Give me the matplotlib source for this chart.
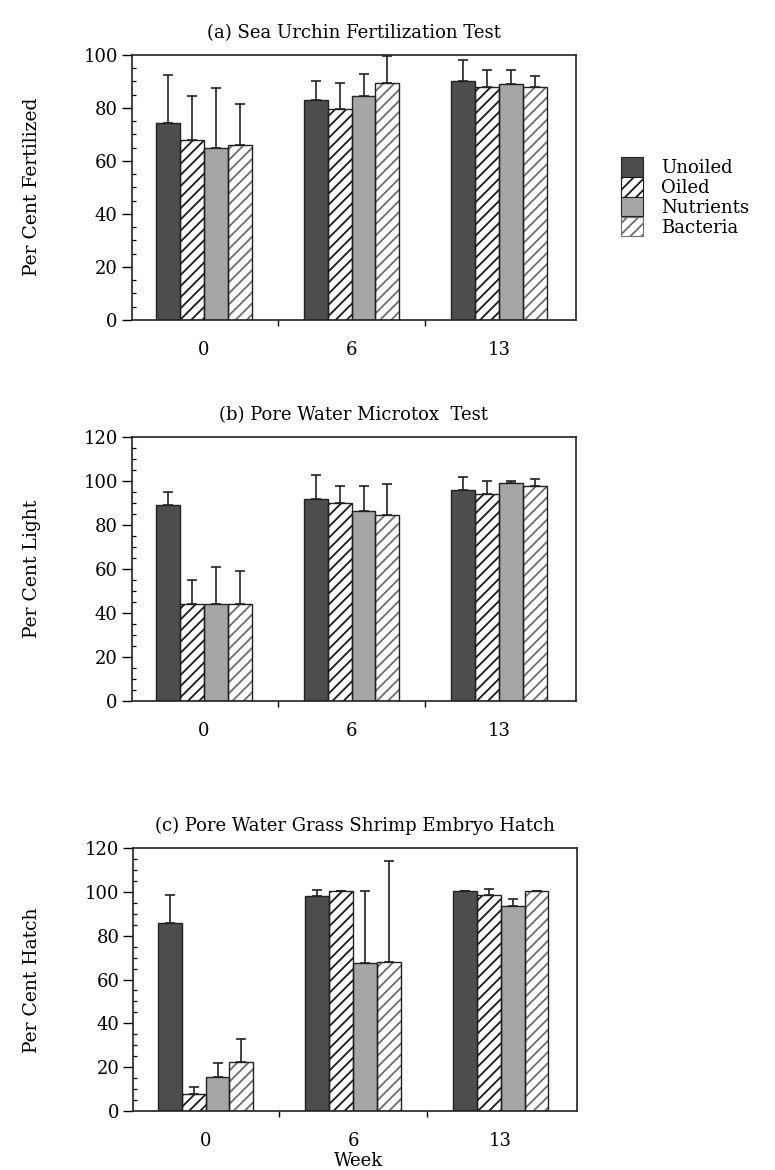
import numpy as np
import matplotlib
matplotlib.use("Agg")
import matplotlib.pyplot as plt
from matplotlib.patches import Patch
from matplotlib.ticker import MultipleLocator

plt.rcParams["font.family"] = ["DejaVu Serif"]
plt.rcParams["hatch.linewidth"] = 1.3

weeks = ["0", "6", "13"]
treatments = ["Unoiled", "Oiled", "Nutrients", "Bacteria"]

# (a) Sea urchin fertilization, per cent fertilized
a_unoiled = [74.5, 83, 90]
a_oiled = [68, 79.5, 88]
a_nutrients = [65, 84.5, 89]
a_bacteria = [66, 89.5, 88]
a_unoiled_err = [18, 7, 8]
a_oiled_err = [16.5, 10, 6.5]
a_nutrients_err = [22.5, 8.5, 5.5]
a_bacteria_err = [15.5, 10, 4]

# (b) Microtox, per cent light
b_unoiled = [89, 91.7, 96]
b_oiled = [44, 90.2, 94.3]
b_nutrients = [44, 86.4, 99.3]
b_bacteria = [44.3, 84.7, 97.6]
b_unoiled_err = [6, 11, 5.7]
b_oiled_err = [11.2, 7.6, 5.7]
b_nutrients_err = [17, 11.4, 0.5]
b_bacteria_err = [15, 14, 3.3]

# (c) Grass shrimp embryo hatch, per cent hatch
c_unoiled = [85.7, 98.2, 100.5]
c_oiled = [7.8, 100.2, 98.7]
c_nutrients = [15.7, 67.5, 93.4]
c_bacteria = [22.5, 68.2, 100.5]
c_unoiled_err = [12.8, 2.5, 0]
c_oiled_err = [3, 0, 2.6]
c_nutrients_err = [6.4, 33, 3.3]
c_bacteria_err = [10.2, 45.7, 0]

# face colour, hatch, hatch colour for each treatment
styles = [
    ("#4d4d4d", "", "#4d4d4d"),
    ("#ffffff", "///", "#1a1a1a"),
    ("#a6a6a6", "", "#a6a6a6"),
    ("#ffffff", "///", "#6e6e6e"),
]

panels = [
    ("(a) Sea Urchin Fertilization Test", "Per Cent Fertilized", 100,
     [a_unoiled, a_oiled, a_nutrients, a_bacteria],
     [a_unoiled_err, a_oiled_err, a_nutrients_err, a_bacteria_err]),
    ("(b) Pore Water Microtox  Test", "Per Cent Light", 120,
     [b_unoiled, b_oiled, b_nutrients, b_bacteria],
     [b_unoiled_err, b_oiled_err, b_nutrients_err, b_bacteria_err]),
    ("(c) Pore Water Grass Shrimp Embryo Hatch", "Per Cent Hatch", 120,
     [c_unoiled, c_oiled, c_nutrients, c_bacteria],
     [c_unoiled_err, c_oiled_err, c_nutrients_err, c_bacteria_err]),
]

# axes boxes in figure fraction (left, bottom, width, height)
boxes = [
    (0.170, 0.7265, 0.573, 0.2265),
    (0.170, 0.4009, 0.573, 0.2256),
    (0.172, 0.0504, 0.573, 0.2248),
]
ylabel_y = [1 - 187 / 1170, 1 - 569 / 1170, 1 - 980 / 1170]

fig = plt.figure(figsize=(7.75, 11.7), dpi=100)
x = np.arange(len(weeks))
w = 0.162

for (title, ylab, ymax, vals, errs), box, ly in zip(panels, boxes, ylabel_y):
    ax = fig.add_axes(box)
    for i, (v, e) in enumerate(zip(vals, errs)):
        fc, hatch, hc = styles[i]
        pos = x + (i - 1.5) * w
        ax.bar(pos, v, w, color=fc, hatch=hatch, edgecolor=hc, linewidth=0, zorder=2)
        ax.bar(pos, v, w, fill=False, edgecolor="#222222", linewidth=1.0, zorder=3)
        ax.errorbar(pos, v, yerr=[np.zeros(len(e)), e], fmt="none", ecolor="#222222",
                    elinewidth=1.2, capsize=3.6, capthick=1.2, zorder=4)
    ax.set_xlim(-0.49, 2.52)
    ax.set_ylim(0, ymax)
    ax.set_xticks(x)
    ax.set_xticklabels(weeks, fontsize=13)
    ax.set_xticks([0.5, 1.5], minor=True)
    ax.tick_params(axis="x", which="major", length=0, pad=15)
    ax.tick_params(axis="x", which="minor", direction="out", length=4, width=1.0)
    ax.yaxis.set_major_locator(MultipleLocator(20))
    ax.yaxis.set_minor_locator(MultipleLocator(5))
    ax.tick_params(axis="y", which="major", direction="out", length=7, width=1.0,
                   labelsize=13, pad=3)
    ax.tick_params(axis="y", which="minor", direction="in", length=3, width=0.9)
    for s in ax.spines.values():
        s.set_linewidth(1.2)
        s.set_color("#222222")
    ax.set_title(title, fontsize=13, pad=12)
    fig.text(32 / 775, ly, ylab, rotation=90, ha="center", va="center", fontsize=13.5)

fig.text(359 / 775, 1 - 1161 / 1170, "Week", ha="center", va="center", fontsize=13)

handles = [Patch(facecolor=fc, hatch=h, edgecolor=hc if h else "#222222", linewidth=0.8)
           for fc, h, hc in styles]
fig.legend(handles, treatments, loc="upper left", bbox_to_anchor=(612 / 775, 1 - 148 / 1170),
           frameon=False, fontsize=13, handlelength=1.2, handleheight=1.3,
           labelspacing=0.0, handletextpad=1.0, borderpad=0)

fig.savefig("out.png", dpi=100)
